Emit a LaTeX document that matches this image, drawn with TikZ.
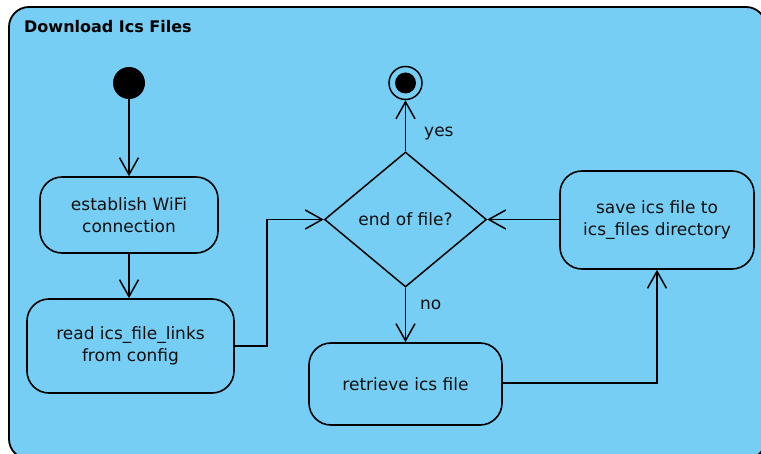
\documentclass[tikz,border=0pt]{standalone}
\usepackage{fontspec}
\setmainfont{DejaVu Sans}
\usetikzlibrary{arrows.meta,shapes.geometric}
\definecolor{areafill}{RGB}{119,206,244}
\definecolor{inktext}{RGB}{15,15,15}
\begin{document}
\begin{tikzpicture}[x=1pt,y=-1pt,
  action/.style={draw=black,line width=1.6pt,rounded corners=22pt,fill=areafill,
    align=center,inner sep=0pt,text=inktext,font=\fontsize{17}{22}\selectfont},
  flow/.style={draw=black,line width=1.5pt,-{Straight Barb[length=17pt,width=19pt,line width=1.5pt]}},
  guard/.style={text=inktext,font=\fontsize{17}{20}\selectfont,inner sep=0pt}]
\useasboundingbox (0,0) rectangle (761,454);
% activity frame
\draw[line width=1.8pt,fill=areafill,rounded corners=20pt] (9,7) rectangle (766,459);
\node[anchor=west,inner sep=0pt,text=black,font=\bfseries\fontsize{16}{20}\selectfont] (title) at (24,26.5) {Download Ics Files};
% initial and final nodes
\node[circle,fill=black,minimum size=32pt,inner sep=0pt] (start) at (129,83) {};
\node[circle,draw=black,line width=1.5pt,minimum size=33pt,inner sep=0pt] (stop) at (405.5,83) {};
\node[circle,fill=black,minimum size=21pt,inner sep=0pt] (stopdot) at (405.5,83) {};
% actions
\node[action,minimum width=178pt,minimum height=76pt] (wifi) at (129,215) {establish WiFi\\connection};
\node[action,minimum width=207pt,minimum height=94pt] (links) at (130.5,346) {read ics\_file\_links\\from config};
\node[action,minimum width=193pt,minimum height=82pt] (fetch) at (405.5,384) {retrieve ics file};
\node[action,minimum width=194pt,minimum height=98pt] (save) at (657,220) {save ics file to\\ics\_files directory};
% decision
\node[diamond,draw=black,line width=1.5pt,fill=areafill,minimum width=162pt,minimum height=135pt,
  inner sep=0pt,aspect=1.2,text=inktext,font=\fontsize{17}{20}\selectfont] (eof) at (405.5,219.5) {end of file?};
% control flow
\draw[flow] (start) -- (wifi.north);
\draw[flow] (wifi.south) -- (wifi.south |- links.north);
\coordinate (bendA) at (267,346);
\coordinate (bendB) at (267,219.5);
\draw[flow] (links.east |- bendA) -- (bendA) -- (bendB) -- (eof.west);
\draw[flow] (eof.north) -- (stop.south);
\draw[flow] (eof.south) -- (fetch.north);
\coordinate (bendC) at (657,383);
\draw[flow] (fetch.east |- bendC) -- (bendC) -- (save.south);
\draw[flow] (save.west |- eof.east) -- (eof.east);
% guards
\node[guard,anchor=west] (yes) at (424,133.5) {yes};
\node[guard,anchor=west] (no) at (420,304.5) {no};
\end{tikzpicture}
\end{document}
